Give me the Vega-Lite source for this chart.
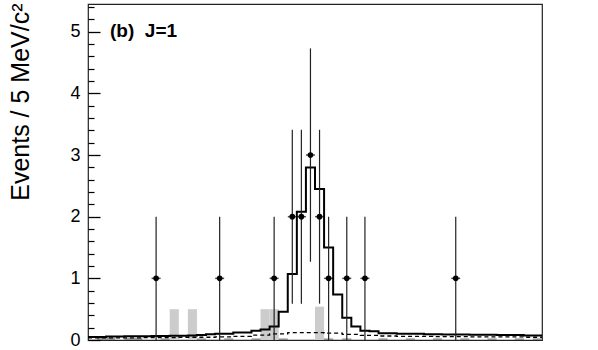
{
  "$schema": "https://vega.github.io/schema/vega-lite/v6.json",
  "width": 454,
  "height": 336,
  "autosize": {"type": "none"},
  "padding": {"left": 88, "top": 4, "right": 56, "bottom": 10},
  "background": "white",
  "config": {
    "view": {"stroke": "#222222", "strokeWidth": 1.2},
    "font": "Liberation Sans",
    "axis": {"ticks": true}
  },
  "title": {
    "text": "(b)\u00a0\u00a0J=1",
    "anchor": "start",
    "orient": "top",
    "frame": "group",
    "font": "Liberation Sans",
    "fontSize": 19,
    "fontWeight": "bold",
    "color": "black",
    "baseline": "alphabetic",
    "offset": -53,
    "dx": 22
  },
  "datasets": {
    "fit": [
      {"x": 0, "v": 0.05}, {"x": 5, "v": 0.05}, {"x": 10, "v": 0.055}, {"x": 15, "v": 0.055},
      {"x": 20, "v": 0.06}, {"x": 25, "v": 0.06}, {"x": 30, "v": 0.06}, {"x": 35, "v": 0.065},
      {"x": 40, "v": 0.065}, {"x": 45, "v": 0.07}, {"x": 50, "v": 0.07}, {"x": 55, "v": 0.075},
      {"x": 60, "v": 0.08}, {"x": 65, "v": 0.095}, {"x": 70, "v": 0.1}, {"x": 75, "v": 0.1},
      {"x": 80, "v": 0.12}, {"x": 85, "v": 0.12}, {"x": 90, "v": 0.15}, {"x": 95, "v": 0.17},
      {"x": 100, "v": 0.22}, {"x": 105, "v": 0.46}, {"x": 110, "v": 1.07}, {"x": 115, "v": 2.08},
      {"x": 120, "v": 2.8}, {"x": 125, "v": 2.45}, {"x": 130, "v": 1.5}, {"x": 135, "v": 0.74},
      {"x": 140, "v": 0.36}, {"x": 145, "v": 0.22}, {"x": 150, "v": 0.15}, {"x": 155, "v": 0.14},
      {"x": 160, "v": 0.11}, {"x": 165, "v": 0.11}, {"x": 170, "v": 0.1}, {"x": 175, "v": 0.1},
      {"x": 180, "v": 0.1}, {"x": 185, "v": 0.095}, {"x": 190, "v": 0.095}, {"x": 195, "v": 0.09},
      {"x": 200, "v": 0.09}, {"x": 205, "v": 0.09}, {"x": 210, "v": 0.085}, {"x": 215, "v": 0.085},
      {"x": 220, "v": 0.085}, {"x": 225, "v": 0.08}, {"x": 230, "v": 0.08}, {"x": 235, "v": 0.08},
      {"x": 240, "v": 0.075}, {"x": 245, "v": 0.075}, {"x": 250, "v": 0.075}
    ],
    "bkg": [
      {"x": 0, "v": 0.035}, {"x": 10, "v": 0.035}, {"x": 20, "v": 0.035}, {"x": 30, "v": 0.04},
      {"x": 40, "v": 0.04}, {"x": 50, "v": 0.045}, {"x": 60, "v": 0.045}, {"x": 70, "v": 0.05},
      {"x": 80, "v": 0.06}, {"x": 90, "v": 0.08}, {"x": 100, "v": 0.1}, {"x": 110, "v": 0.12},
      {"x": 120, "v": 0.12}, {"x": 130, "v": 0.11}, {"x": 140, "v": 0.09}, {"x": 150, "v": 0.075},
      {"x": 160, "v": 0.065}, {"x": 170, "v": 0.06}, {"x": 180, "v": 0.06}, {"x": 190, "v": 0.055},
      {"x": 200, "v": 0.055}, {"x": 210, "v": 0.05}, {"x": 220, "v": 0.05}, {"x": 230, "v": 0.05},
      {"x": 240, "v": 0.045}, {"x": 250, "v": 0.045}
    ],
    "side": [
      {"lo": 45, "hi": 50, "h": 0.5},
      {"lo": 55, "hi": 60, "h": 0.5},
      {"lo": 95, "hi": 100, "h": 0.5},
      {"lo": 100, "hi": 105, "h": 0.5},
      {"lo": 125, "hi": 130, "h": 0.54}
    ],
    "dark": [
      {"lo": 5, "hi": 10, "h": 0.03}, {"lo": 10, "hi": 15, "h": 0.03},
      {"lo": 20, "hi": 25, "h": 0.03}, {"lo": 25, "hi": 30, "h": 0.03},
      {"lo": 40, "hi": 45, "h": 0.025}, {"lo": 60, "hi": 65, "h": 0.025},
      {"lo": 75, "hi": 80, "h": 0.025}, {"lo": 90, "hi": 95, "h": 0.025},
      {"lo": 105, "hi": 110, "h": 0.025}, {"lo": 130, "hi": 135, "h": 0.025},
      {"lo": 140, "hi": 145, "h": 0.025}, {"lo": 160, "hi": 165, "h": 0.025},
      {"lo": 175, "hi": 180, "h": 0.025}, {"lo": 190, "hi": 195, "h": 0.025},
      {"lo": 205, "hi": 210, "h": 0.025}, {"lo": 220, "hi": 225, "h": 0.025},
      {"lo": 235, "hi": 240, "h": 0.025}, {"lo": 245, "hi": 250, "h": 0.025}
    ],
    "pts": [
      {"x": 37.5, "n": 1, "lo": 0, "hi": 2},
      {"x": 72.5, "n": 1, "lo": 0, "hi": 2},
      {"x": 102.5, "n": 1, "lo": 0, "hi": 2},
      {"x": 112.5, "n": 2, "lo": 0.59, "hi": 3.41},
      {"x": 117.5, "n": 2, "lo": 0.59, "hi": 3.41},
      {"x": 122.5, "n": 3, "lo": 1.27, "hi": 4.73},
      {"x": 127.5, "n": 2, "lo": 0.59, "hi": 3.41},
      {"x": 132.5, "n": 1, "lo": 0, "hi": 2},
      {"x": 142.5, "n": 1, "lo": 0, "hi": 2},
      {"x": 152.5, "n": 1, "lo": 0, "hi": 2},
      {"x": 202.5, "n": 1, "lo": 0, "hi": 2}
    ]
  },
  "resolve": {"axis": {"y": "independent"}},
  "layer": [
    {
      "data": {"name": "side"},
      "mark": {"type": "rect", "color": "#cccccc"},
      "encoding": {
        "x": {"field": "lo", "type": "quantitative", "scale": {"domain": [0, 250], "nice": false}, "axis": null},
        "x2": {"field": "hi"},
        "y": {"field": "h", "type": "quantitative", "scale": {"domain": [0, 5.45], "nice": false},
          "axis": {
            "orient": "left",
            "offset": -12,
            "zindex": 2,
            "values": [0, 1, 2, 3, 4, 5],
            "ticks": true,
            "tickSize": 12,
            "tickColor": "#000000",
            "tickOpacity": 1,
            "tickWidth": 1.3,
            "domain": false,
            "grid": false,
            "labelFont": "Liberation Sans",
            "labelFontSize": 18,
            "labelColor": "black",
            "labelPadding": 8,
            "title": "Events / 5 MeV/c²",
            "titleFont": "Liberation Sans",
            "titleFontSize": 25,
            "titleFontWeight": "normal",
            "titleColor": "black",
            "titleAngle": 270,
            "titleAlign": "right",
            "titleBaseline": "alphabetic",
            "titleX": -72,
            "titleY": -1
          }
        },
        "y2": {"datum": 0}
      }
    },
    {
      "data": {"name": "dark"},
      "mark": {"type": "rect", "color": "#8c8c8c"},
      "encoding": {
        "x": {"field": "lo", "type": "quantitative", "axis": null},
        "x2": {"field": "hi"},
        "y": {"field": "h", "type": "quantitative",
          "axis": {
            "orient": "left",
            "offset": -6,
            "zindex": 2,
            "values": [0.2, 0.4, 0.6, 0.8, 1.2, 1.4, 1.6, 1.8, 2.2, 2.4, 2.6, 2.8, 3.2, 3.4, 3.6, 3.8, 4.2, 4.4, 4.6, 4.8, 5.2, 5.4],
            "ticks": true,
            "tickSize": 6,
            "tickColor": "#000000",
            "tickOpacity": 1,
            "tickWidth": 1.2,
            "domain": false,
            "labels": false,
            "grid": false,
            "title": null
          }
        },
        "y2": {"datum": 0}
      }
    },
    {
      "data": {"name": "bkg"},
      "mark": {"type": "line", "interpolate": "step-after", "color": "black", "strokeWidth": 1.3, "strokeDash": [4, 3]},
      "encoding": {
        "x": {"field": "x", "type": "quantitative", "axis": null},
        "y": {"field": "v", "type": "quantitative", "axis": null}
      }
    },
    {
      "data": {"name": "fit"},
      "mark": {"type": "line", "interpolate": "step-after", "color": "black", "strokeWidth": 2},
      "encoding": {
        "x": {"field": "x", "type": "quantitative", "axis": null},
        "y": {"field": "v", "type": "quantitative", "axis": null}
      }
    },
    {
      "data": {"name": "pts"},
      "mark": {"type": "rule", "color": "#222222", "strokeWidth": 1.2},
      "encoding": {
        "x": {"field": "x", "type": "quantitative", "axis": null},
        "y": {"field": "lo", "type": "quantitative", "axis": null},
        "y2": {"field": "hi"}
      }
    },
    {
      "data": {"name": "pts"},
      "mark": {"type": "tick", "orient": "horizontal", "color": "black", "size": 9, "thickness": 1.5},
      "encoding": {
        "x": {"field": "x", "type": "quantitative", "axis": null},
        "y": {"field": "n", "type": "quantitative", "axis": null}
      }
    },
    {
      "data": {"name": "pts"},
      "mark": {"type": "point", "shape": "circle", "filled": true, "color": "black", "size": 32, "opacity": 1},
      "encoding": {
        "x": {"field": "x", "type": "quantitative", "axis": null},
        "y": {"field": "n", "type": "quantitative", "axis": null}
      }
    }
  ]
}
